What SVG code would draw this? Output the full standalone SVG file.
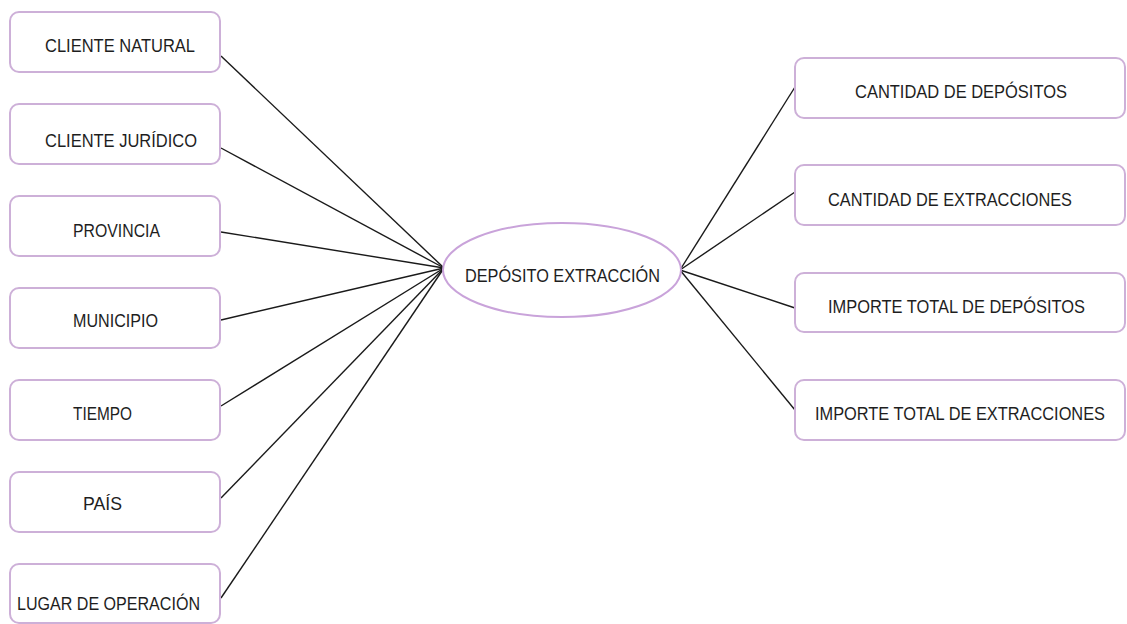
<svg xmlns="http://www.w3.org/2000/svg" width="1127" height="624" viewBox="0 0 1127 624">
  <style>
    .box { fill: #ffffff; stroke: #cdb0d8; stroke-width: 2; }
    .hub { fill: #ffffff; stroke: #c9a3da; stroke-width: 2; }
    .lbl { font-family: "Liberation Sans", Arial, sans-serif; font-size: 19px; fill: #1e1e1e; }
    .edge { stroke: #1a1a1a; stroke-width: 1.4; fill: none; }
  </style>
  <rect width="1127" height="624" fill="#ffffff"/>

  <!-- connectors -->
  <g id="connectors">
    <line class="edge" x1="221" y1="56" x2="444" y2="268"/>
    <line class="edge" x1="221" y1="148" x2="444" y2="268"/>
    <line class="edge" x1="221" y1="232" x2="444" y2="268"/>
    <line class="edge" x1="221" y1="320" x2="444" y2="268"/>
    <line class="edge" x1="221" y1="406" x2="444" y2="268"/>
    <line class="edge" x1="221" y1="498" x2="444" y2="268"/>
    <line class="edge" x1="221" y1="598" x2="444" y2="268"/>
    <line class="edge" x1="680" y1="270" x2="795" y2="87"/>
    <line class="edge" x1="680" y1="270" x2="795" y2="192"/>
    <line class="edge" x1="680" y1="270" x2="795" y2="308"/>
    <line class="edge" x1="680" y1="270" x2="795" y2="410"/>
  </g>

  <!-- dimension nodes -->
  <g id="cliente-natural">
    <rect class="box" x="10" y="12" width="210" height="60" rx="9"/>
    <text class="lbl" x="45" y="52" textLength="150" lengthAdjust="spacingAndGlyphs">CLIENTE NATURAL</text>
  </g>
  <g id="cliente-juridico">
    <rect class="box" x="10" y="104" width="210" height="60" rx="9"/>
    <text class="lbl" x="45" y="147" textLength="152" lengthAdjust="spacingAndGlyphs">CLIENTE JURÍDICO</text>
  </g>
  <g id="provincia">
    <rect class="box" x="10" y="196" width="210" height="60" rx="9"/>
    <text class="lbl" x="73" y="237" textLength="87" lengthAdjust="spacingAndGlyphs">PROVINCIA</text>
  </g>
  <g id="municipio">
    <rect class="box" x="10" y="288" width="210" height="60" rx="9"/>
    <text class="lbl" x="73" y="327" textLength="85" lengthAdjust="spacingAndGlyphs">MUNICIPIO</text>
  </g>
  <g id="tiempo">
    <rect class="box" x="10" y="380" width="210" height="60" rx="9"/>
    <text class="lbl" x="73" y="420" textLength="59" lengthAdjust="spacingAndGlyphs">TIEMPO</text>
  </g>
  <g id="pais">
    <rect class="box" x="10" y="472" width="210" height="60" rx="9"/>
    <text class="lbl" x="83" y="510" textLength="39" lengthAdjust="spacingAndGlyphs">PAÍS</text>
  </g>
  <g id="lugar-operacion">
    <rect class="box" x="10" y="564" width="210" height="59" rx="9"/>
    <text class="lbl" x="17" y="610" textLength="183" lengthAdjust="spacingAndGlyphs">LUGAR DE OPERACIÓN</text>
  </g>

  <!-- fact node -->
  <g id="deposito-extraccion">
    <ellipse class="hub" cx="562" cy="270" rx="119" ry="47"/>
    <text class="lbl" x="465" y="282" textLength="195" lengthAdjust="spacingAndGlyphs">DEPÓSITO EXTRACCIÓN</text>
  </g>

  <!-- measure nodes -->
  <g id="cantidad-depositos">
    <rect class="box" x="795" y="58" width="330" height="60" rx="9"/>
    <text class="lbl" x="855" y="98" textLength="212" lengthAdjust="spacingAndGlyphs">CANTIDAD DE DEPÓSITOS</text>
  </g>
  <g id="cantidad-extracciones">
    <rect class="box" x="795" y="165" width="330" height="60" rx="9"/>
    <text class="lbl" x="828" y="206" textLength="244" lengthAdjust="spacingAndGlyphs">CANTIDAD DE EXTRACCIONES</text>
  </g>
  <g id="importe-depositos">
    <rect class="box" x="795" y="273" width="330" height="59" rx="9"/>
    <text class="lbl" x="828" y="313" textLength="257" lengthAdjust="spacingAndGlyphs">IMPORTE TOTAL DE DEPÓSITOS</text>
  </g>
  <g id="importe-extracciones">
    <rect class="box" x="795" y="380" width="330" height="60" rx="9"/>
    <text class="lbl" x="815" y="420" textLength="290" lengthAdjust="spacingAndGlyphs">IMPORTE TOTAL DE EXTRACCIONES</text>
  </g>
</svg>
